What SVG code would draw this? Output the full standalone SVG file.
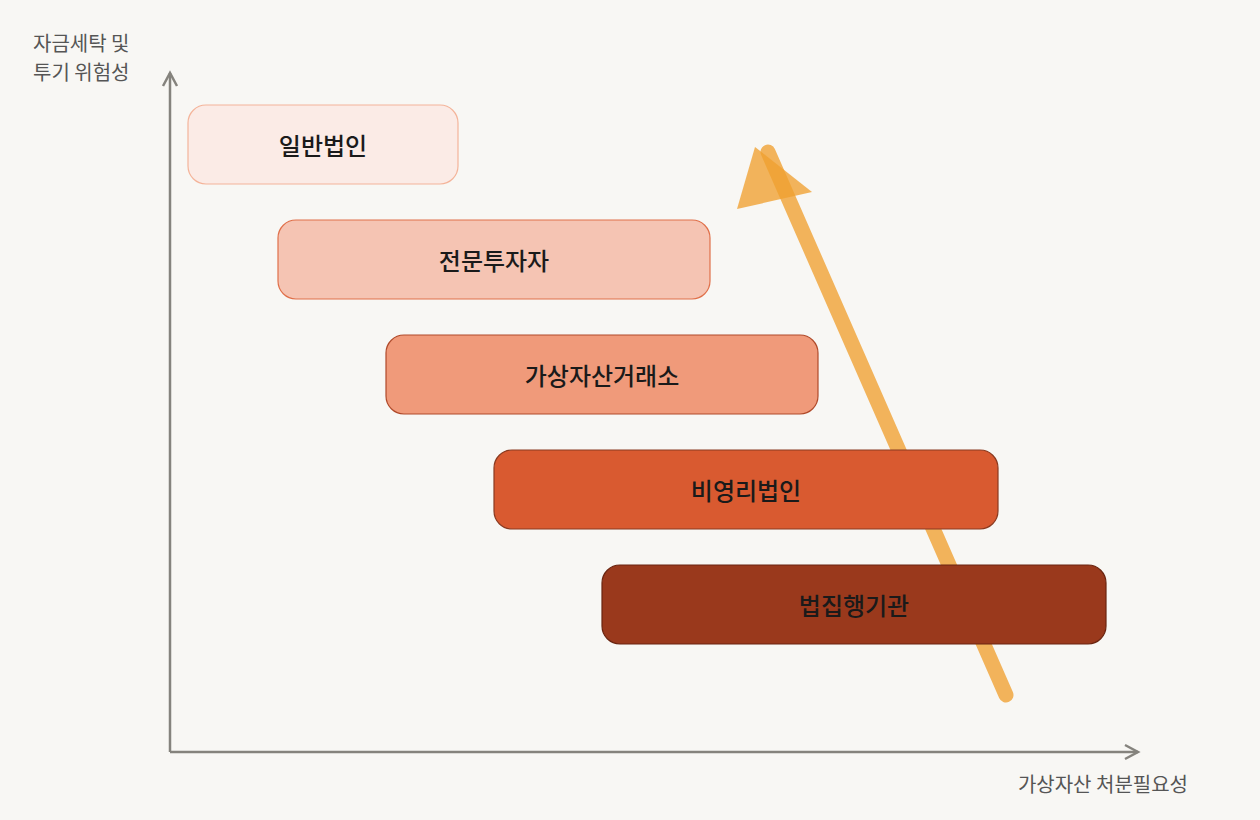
<svg xmlns="http://www.w3.org/2000/svg" width="1260" height="820" viewBox="0 0 1260 820">
<style>
.lbl{font-family:"Noto Sans CJK KR","Noto Sans",sans-serif;font-size:24px;font-weight:500;fill:#1a1a1a;text-anchor:middle;dominant-baseline:central}
.ax{font-family:"Noto Sans CJK KR","Noto Sans",sans-serif;font-size:20px;fill:#555}
.axis{stroke:#85837d;stroke-width:2.5;fill:none}
</style>
<rect width="1260" height="820" fill="#f8f7f4"/>
<g id="connectors">
<line class="axis" x1="170" y1="752" x2="170" y2="73"/>
<polyline class="axis" points="163,86 170,73 177,86"/>
<line class="axis" x1="170" y1="752" x2="1138" y2="752"/>
<polyline class="axis" points="1125,745 1138,752 1125,759"/>
<g id="trend">
<line x1="1006" y1="695" x2="768" y2="152" stroke="#f0a030" stroke-opacity="0.78" stroke-width="15" stroke-linecap="round"/>
<polygon points="737,209 812,192 755,147" fill="#f0a030" fill-opacity="0.78"/>
</g>
</g>
<g id="n1"><rect x="188" y="105" width="270" height="79" rx="18" fill="#fbebe6" stroke="#f4b49a" stroke-width="1.2"/><text class="lbl" x="323" y="144">일반법인</text></g>
<g id="n2"><rect x="278" y="220" width="432" height="79" rx="18" fill="#f5c4b3" stroke="#e0704a" stroke-width="1.2"/><text class="lbl" x="494" y="259">전문투자자</text></g>
<g id="n3"><rect x="386" y="335" width="432" height="79" rx="18" fill="#f09a7a" stroke="#b04a2a" stroke-width="1.2"/><text class="lbl" x="602" y="374">가상자산거래소</text></g>
<g id="n4"><rect x="494" y="450" width="504" height="79" rx="18" fill="#d95a30" stroke="#8a3a20" stroke-width="1.2"/><text class="lbl" x="746" y="489">비영리법인</text></g>
<g id="n5"><rect x="602" y="565" width="504" height="79" rx="18" fill="#9a391c" stroke="#6a2510" stroke-width="1.2"/><text class="lbl" x="854" y="604">법집행기관</text></g>
<g id="axis-labels">
<text class="ax" x="33" y="51">자금세탁 및</text>
<text class="ax" x="33" y="80">투기 위험성</text>
<text class="ax" x="1188" y="792" text-anchor="end">가상자산 처분필요성</text>
</g>
</svg>
